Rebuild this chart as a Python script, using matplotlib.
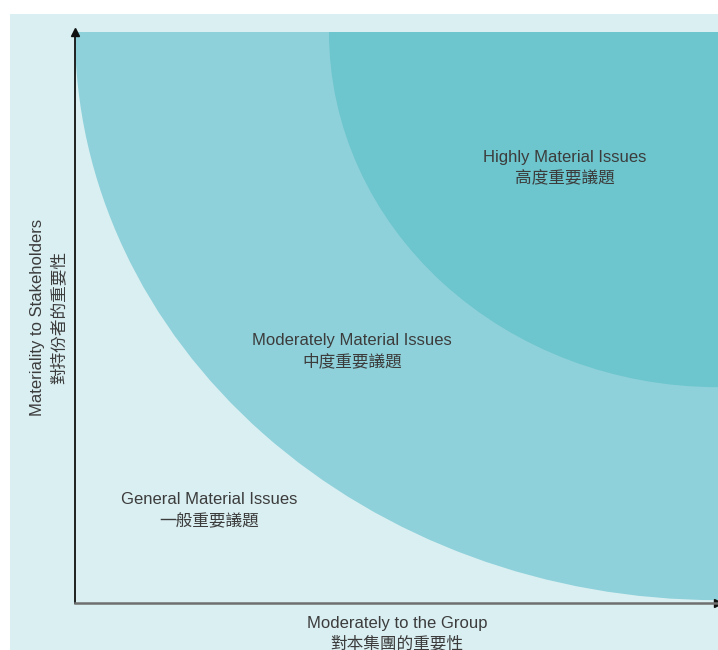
import matplotlib.pyplot as plt
from matplotlib.patches import Ellipse, Rectangle

plt.rcParams['font.family'] = ['Liberation Sans', 'Noto Sans CJK TC', 'DejaVu Sans']

# regions: quarter ellipses centred on the top-right corner (high / high)
regions = ['Moderately Material Issues', 'Highly Material Issues']
region_rx = [1.0, 0.605]
region_ry = [0.995, 0.622]
region_colors = ['#8ed1da', '#6dc5cd']

labels_en = ['Highly Material Issues', 'Moderately Material Issues', 'General Material Issues']
labels_zh = ['高度重要議題', '中度重要議題', '一般重要議題']
label_x = [0.762, 0.431, 0.208]
label_y = [0.773, 0.452, 0.173]

xlabel_en = 'Moderately to the Group'
xlabel_zh = '對本集團的重要性'
ylabel_en = 'Materiality to Stakeholders'
ylabel_zh = '對持份者的重要性'

bg = '#daeff2'
text_color = '#3c3c3c'
fs = 12

fig = plt.figure(figsize=(7.18, 6.5), dpi=100)
fig.patches.append(Rectangle((10 / 718, 0), 708 / 718, 636 / 650,
                             transform=fig.transFigure, facecolor=bg,
                             edgecolor='none', zorder=-10))

ax = fig.add_axes([75 / 718, 47 / 650, 643 / 718, 571 / 650])
ax.set_facecolor(bg)
ax.set_xlim(0, 1)
ax.set_ylim(0, 1)

for rx, ry, c in zip(region_rx, region_ry, region_colors):
    ax.add_patch(Ellipse((1, 1), 2 * rx, 2 * ry, facecolor=c, edgecolor='none'))

for x, y, en, zh in zip(label_x, label_y, labels_en, labels_zh):
    ax.text(x, y, en, ha='center', va='baseline', fontsize=fs, color=text_color)
    ax.text(x, y - 0.038, zh, ha='center', va='baseline', fontsize=fs, color=text_color)

for s in ['top', 'right']:
    ax.spines[s].set_visible(False)
ax.spines['left'].set_color('#111111')
ax.spines['left'].set_linewidth(1.3)
ax.spines['bottom'].set_color('#6f6f6f')
ax.spines['bottom'].set_linewidth(1.8)
ax.set_xticks([])
ax.set_yticks([])

# arrow heads
ax.plot(0, 1.0, marker='^', color='#111111', markersize=6, clip_on=False,
        transform=ax.transAxes)
ax.plot(1.0, 0, marker='>', color='#111111', markersize=6, clip_on=False,
        transform=ax.transAxes)

ax.text(0.501, -0.022, xlabel_en, ha='center', va='top', fontsize=fs,
        color=text_color, transform=ax.transAxes)
ax.text(0.501, -0.057, xlabel_zh, ha='center', va='top', fontsize=fs,
        color=text_color, transform=ax.transAxes)
ax.text(-0.059, 0.5, ylabel_en, ha='center', va='center', rotation=90,
        fontsize=fs, color=text_color, transform=ax.transAxes)
ax.text(-0.026, 0.5, ylabel_zh, ha='center', va='center', rotation=90,
        fontsize=fs, color=text_color, transform=ax.transAxes)

fig.savefig('out.png', dpi=100)
